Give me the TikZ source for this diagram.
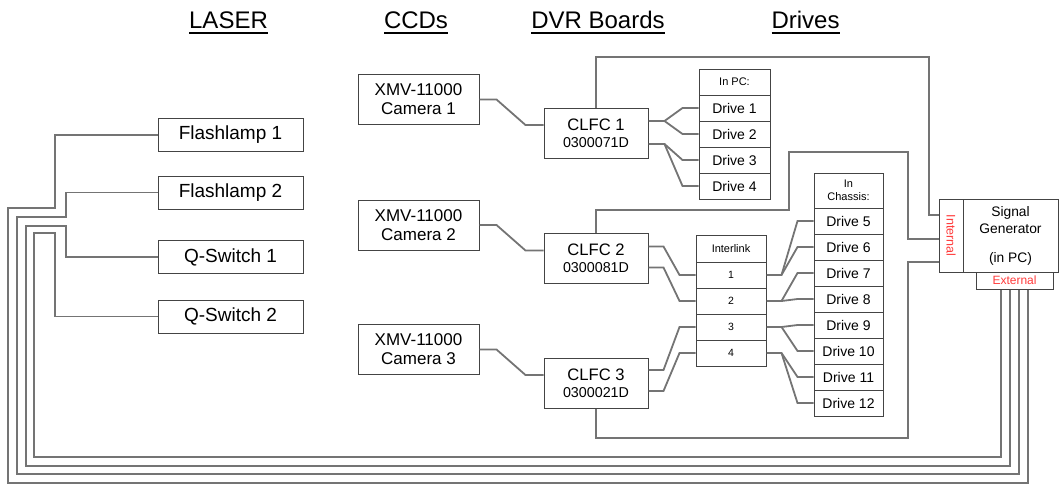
\documentclass[tikz,border=0pt]{standalone}
\usepackage{fontspec}
\setmainfont{Liberation Sans}
\usepackage{graphicx}
\usetikzlibrary{calc,positioning}
\definecolor{Wire}{HTML}{747474}
\definecolor{Edge}{HTML}{444444}
\definecolor{Sync}{HTML}{FF3B3B}
\newcommand{\px}[2]{\fontsize{#1}{#2}\selectfont}
\newcommand{\headline}[1]{\setbox0\hbox{#1}\rlap{\copy0}\rule[-5.8pt]{\wd0}{1.5pt}}
\tikzset{
  box/.style={draw=Edge,line width=1pt,fill=white,align=center,inner sep=0pt},
  wire/.style={draw=Wire,line width=1.8pt,line join=miter},
  head/.style={anchor=base,inner sep=0pt,font=\px{24}{28}},
  laser/.style={box,minimum width=145pt,minimum height=33pt,font=\px{19}{22}},
  cam/.style={box,minimum width=121pt,minimum height=50pt,font=\px{17}{19}},
  board/.style={box,minimum width=104pt,minimum height=50pt,font=\px{16.6}{17}},
  drv/.style={box,minimum height=26pt,font=\px{14}{16}},
  tabhead/.style={box,font=\px{11}{13.5}}
}

\begin{document}
\begin{tikzpicture}[x=1pt,y=-1pt]
\useasboundingbox (0,0) rectangle (1059,485);
% column titles
\node[head] (tlaser) at (228.5,28) {\headline{LASER}};
\node[head] (tccd) at (416,28) {\headline{CCDs}};
\node[head] (tdvr) at (598,28) {\headline{DVR Boards}};
\node[head] (tdrv) at (805.5,28) {\headline{Drives}};

% laser
\node[laser] (flash1) at (230.5,135) {Flashlamp 1};
\node[laser] (flash2) at (230.5,192.5) {Flashlamp 2};
\node[laser] (qsw1) at (230.5,257) {Q-Switch 1};
\node[laser] (qsw2) at (230.5,316.5) {Q-Switch 2};

% cameras and boards
\node[cam] (cam1) at (418.5,99.5) {XMV-11000\\Camera 1};
\node[cam] (cam2) at (418.5,225) {XMV-11000\\Camera 2};
\node[cam] (cam3) at (418.5,349.5) {XMV-11000\\Camera 3};
\node[board] (clfc1) at (596,133) {CLFC 1\\\px{14.3}{17}0300071D};
\node[board] (clfc2) at (596,258.5) {CLFC 2\\\px{14.3}{17}0300081D};
\node[board] (clfc3) at (596,383) {CLFC 3\\\px{14.3}{17}0300021D};

% drives
\node[tabhead,minimum width=71pt,minimum height=26pt] (pchead) at (734.5,82) {In PC:};
\foreach \i in {1,...,4}
  \node[drv,minimum width=71pt] (drive\i) at (734.5,{82+26*\i}) {Drive \i};
\node[tabhead,minimum width=69pt,minimum height=35pt] (chhead) at (848.5,190.5) {In\\Chassis:};
\foreach \i in {5,...,12}
  \node[drv,minimum width=69pt] (drive\i) at (848.5,{221+26*(\i-5)}) {Drive \i};
\node[tabhead,minimum width=70pt,minimum height=27pt] (linkhead) at (731,248.5) {Interlink};
\foreach \i in {1,...,4}
  \node[drv,minimum width=70pt,font=\px{10.5}{12}] (link\i) at (731,{275+26*(\i-1)}) {\i};

% signal generator
\node[box,minimum width=24pt,minimum height=73pt,text=Sync,font=\px{12.5}{14}] (int) at (951,235.5) {\rotatebox{-90}{Internal}};
\node[box,minimum width=95pt,minimum height=73pt,font=\px{13.8}{17}] (sig) at (1010.5,235.5) {Signal\\Generator\\[12pt](in PC)};
\node[box,minimum width=77pt,minimum height=17pt,text=Sync,font=\px{12}{14}] (ext) at (1014.5,280.5) {External};

% camera links
\foreach \c in {1,2,3}
  \draw[wire] (cam\c.east) -- ++(17,0) -- ($(clfc\c.west)+(-18,-8)$) -- ($(clfc\c.west)+(0,-8)$);

% board outputs
\draw[wire] ($(clfc1.east)+(0,-12)$) -- ++(16,0) coordinate (s1) -- ($(drive1.west)+(-16,0)$) -- (drive1.west);
\draw[wire] (s1) -- ($(drive2.west)+(-16,0)$) -- (drive2.west);
\draw[wire] ($(clfc1.east)+(0,11)$) -- ++(16,0) coordinate (s2) -- ($(drive3.west)+(-16,0)$) -- (drive3.west);
\draw[wire] (s2) -- ($(drive4.west)+(-16,0)$) -- (drive4.west);
\draw[wire] ($(clfc2.east)+(0,-12)$) -- ++(15,0) -- ($(link1.west)+(-16,0)$) -- (link1.west);
\draw[wire] ($(clfc2.east)+(0,9)$) -- ++(15,0) -- ($(link2.west)+(-16,0)$) -- (link2.west);
\draw[wire] ($(clfc3.east)+(0,-13)$) -- ++(15,0) -- ($(link3.west)+(-16,0)$) -- (link3.west);
\draw[wire] ($(clfc3.east)+(0,8)$) -- ++(15,0) -- ($(link4.west)+(-16,0)$) -- (link4.west);
\foreach \l/\a/\b in {1/5/6,2/7/8,3/9/10,4/11/12}{
  \draw[wire] (link\l.east) -- ++(15,0) coordinate (j\l) -- ($(drive\a.west)+(-16,0)$) -- (drive\a.west);
  \draw[wire] (j\l) -- ($(drive\b.west)+(-16,0)$) -- (drive\b.west);
}

% triggers
\draw[wire] (clfc1.north) |- (929,57) |- ($(int.west)+(0,-20.5)$);
\draw[wire] (clfc2.north) |- (789,210) |- (908,152) |- ($(int.west)+(0,3.5)$);
\draw[wire] (clfc3.south) |- (908,438) |- ($(int.west)+(0,26.5)$);
\draw[wire] (flash1.west) -| (55,208) -| (8,483) -| ($(ext.south)+(13.5,0)$);
\draw[wire] (flash2.west) -| (66,217) -| (17,474) -| ($(ext.south)+(4.5,0)$);
\draw[wire] (qsw1.west) -| (66,226) -| (26,466) -| ($(ext.south)+(-4.5,0)$);
\draw[wire] (qsw2.west) -| (55,233) -| (34,457) -| ($(ext.south)+(-13.5,0)$);
\end{tikzpicture}
\end{document}
